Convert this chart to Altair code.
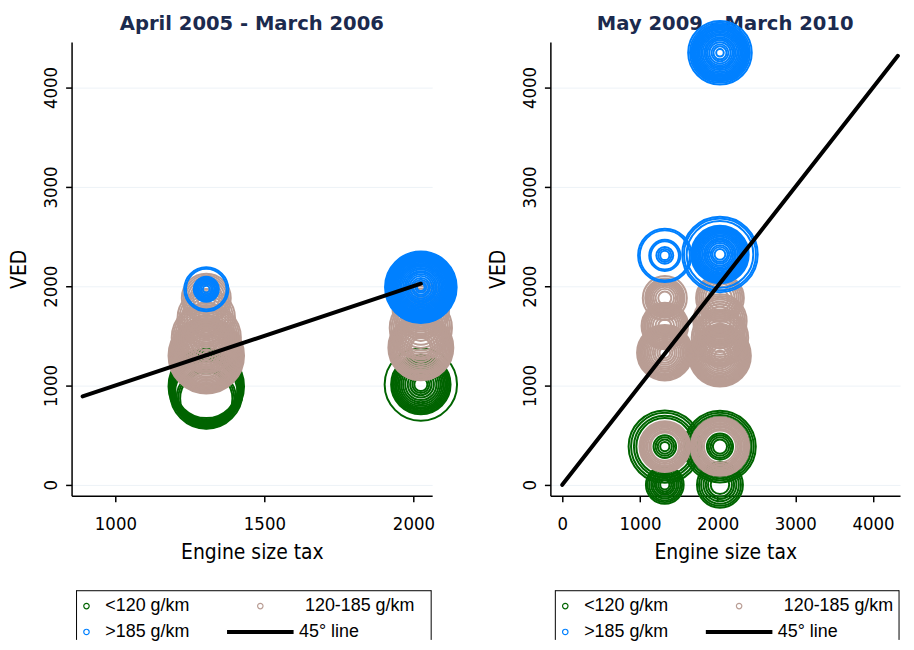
import altair as alt
import pandas as pd

CATS = ["<120 g/km", "120-185 g/km", ">185 g/km"]
LINE_LABEL = "45° line"
COLORS = ["#006400", "#b99d94", "#0080ff"]

TITLE_1 = "April 2005 - March 2006"
TITLE_2 = "May 2009 - March 2010"

# (engine size tax, VED, [weights of the observations at that point])
P1_LOW = [
    (1305, 990, [100, 94, 88, 82, 76, 70]),
    (1305, 930, [92, 84, 76, 68]),
    (1305, 870, [62, 55, 48]),
    (2025, 1010, [92, 62, 57, 52, 47, 42, 37, 32, 27, 22, 17, 12, 8, 5, 3]),
]
P1_MID = [
    (1305, 1300, [100, 95, 90, 85, 80, 75, 70, 65, 60, 55, 50, 45, 40, 35, 30, 25, 20, 16, 12, 9, 6, 3, 1]),
    (1305, 1480, [84, 76, 68, 60, 52, 44, 36, 28, 20, 12]),
    (1305, 1680, [58, 50, 42, 34, 26, 18, 10]),
    (1305, 1880, [42, 36, 30, 24, 18, 12, 6]),
    (2025, 1380, [74, 69, 64, 59, 54, 49, 44, 39, 34, 29, 24, 19, 14, 10, 7]),
    (2025, 1580, [68, 60, 52, 44, 36, 28, 20, 12]),
    (2025, 1760, [56, 48, 40, 32, 24, 16]),
]
P1_HIGH = [
    (1305, 1970, [34, 29, 11, 9, 7.5, 6, 4.5, 3, 1.8, 0.8]),
    (2025, 1990, [90, 86, 82, 78, 74, 70, 66, 62, 58, 54, 50, 46, 42, 38, 34, 30, 26, 22, 18, 15, 12, 9, 6, 4, 2, 1]),
]
P1_LINE = [890, 2025]

P2_LOW = [
    (1320, 385, [92, 80, 67, 57, 9, 6, 3.5, 1.5]),
    (1320, 0, [25, 21, 17, 13, 10, 7, 5, 3, 1.5]),
    (2030, 385, [90, 80, 70, 62, 12, 9, 6, 3.5]),
    (2030, 0, [37, 31, 25, 19, 14, 10, 6]),
]
P2_MID = [
    (1320, 385, [45, 41, 37, 33, 29, 25, 21, 17, 14]),
    (2030, 385, [60, 56, 52, 48, 44, 39, 34, 30, 26, 22, 18]),
    (1320, 1330, [54, 50, 46, 42, 38, 34, 30, 26, 22, 18, 14, 10, 7, 4, 2]),
    (1320, 1600, [38, 34, 30, 26, 22, 18, 14, 10, 6, 3]),
    (1320, 1880, [34, 27, 24, 21, 18, 15, 12, 9, 6, 3]),
    (2030, 1300, [67, 63, 59, 55, 51, 47, 43, 39, 35, 31, 27, 23, 19, 15, 11, 8, 5, 2]),
    (2030, 1480, [56, 50, 44, 38, 32, 26, 20, 14, 8]),
    (2030, 1650, [50, 44, 38, 32, 26, 20, 14, 8]),
    (2030, 1880, [40, 35, 30, 25, 20, 15, 10, 5]),
]
P2_HIGH = [
    (1320, 2310, [50, 44, 17, 14, 5, 3, 1.5]),
    (2030, 2320, [100, 91, 78, 58, 54, 50, 46, 42, 38, 34, 30, 26, 22, 18, 15, 12, 9, 6, 4, 2]),
    (2030, 4350, [71, 63, 57, 53, 49, 45, 41, 37, 33, 29, 25, 21, 17, 14, 11, 8, 5, 3, 1]),
]
P2_LINE = [0, 4320]

Y_TICKS = [0, 1000, 2000, 3000, 4000]
P1_XTICKS = [1000, 1500, 2000]
P2_XTICKS = [0, 1000, 2000, 3000, 4000]

NARROW = "Liberation Sans Narrow, DejaVu Sans Condensed, sans-serif"
REGULAR = "Liberation Sans, Arial, sans-serif"
TITLE_FONT = "DejaVu Sans, sans-serif"

Y_DOMAIN = [-111, 4460]
PLOT_H = 457
LEG_TOP = 95   # gap between plot bottom and legend box
LEG_H = 145


def build_points(low, mid, high):
    rows = []
    for cat, clusters in zip(CATS, [low, mid, high]):
        for x, y, ws in clusters:
            for w in ws:
                rows.append({"cat": cat, "x": x, "y": y, "w": w, "o": len(rows)})
    return pd.DataFrame(rows)


def panel(low, mid, high, line, xdom, xticks, width):
    pts = build_points(low, mid, high)
    xscale = alt.Scale(domain=xdom, nice=False, zero=False)
    yscale = alt.Scale(domain=Y_DOMAIN, nice=False, zero=False)
    xaxis = alt.Axis(values=xticks, format="d", grid=False, title="Engine size tax",
                     tickSize=6, tickWidth=1.5, tickColor="#000",
                     domainColor="#000", domainWidth=1.5,
                     labelFont=NARROW, labelFontSize=18.5, labelColor="#000",
                     labelPadding=13, labelFlush=False, labelOverlap=False,
                     titleFont=NARROW, titleFontSize=21, titleFontWeight="normal",
                     titleColor="#000", titlePadding=9)
    yaxis = alt.Axis(values=Y_TICKS, format="d", grid=True, gridColor="#edf2f7",
                     gridWidth=1, title="VED",
                     tickSize=6, tickWidth=1.5, tickColor="#000",
                     domainColor="#000", domainWidth=1.5,
                     labelFont=NARROW, labelFontSize=18.5, labelColor="#000",
                     labelAngle=270, labelAlign="center", labelBaseline="bottom",
                     labelPadding=5, labelFlush=False, labelOverlap=False,
                     titleFont=NARROW, titleFontSize=21, titleFontWeight="normal",
                     titleColor="#000", titlePadding=12)
    points = alt.Chart(pts).mark_point(
        shape="circle", filled=False, strokeWidth=2.0, opacity=1, clip=False
    ).encode(
        x=alt.X("x:Q", scale=xscale, axis=xaxis),
        y=alt.Y("y:Q", scale=yscale, axis=yaxis),
        size=alt.Size("w:Q", scale=alt.Scale(domain=[0, 100], range=[0, 5776]), legend=None),
        color=alt.Color("cat:N", scale=alt.Scale(domain=CATS, range=COLORS), legend=None),
        order=alt.Order("o:Q"),
    )
    ldf = pd.DataFrame({"x": line, "y": line})
    ln = alt.Chart(ldf).mark_line(color="black", strokeWidth=4, strokeCap="round").encode(
        x=alt.X("x:Q", scale=xscale, axis=xaxis),
        y=alt.Y("y:Q", scale=yscale, axis=yaxis),
    )
    return alt.layer(points, ln).properties(width=width, height=PLOT_H)


def title_block(text, width):
    return alt.Chart(alt.Data(values=[{"t": text}])).mark_text(
        font=TITLE_FONT, fontSize=19.7, fontWeight="bold", color="#1b2a4e",
        align="center", baseline="top"
    ).encode(text="t:N", x=alt.value(width / 2), y=alt.value(4)).properties(
        width=width, height=32)


def legend(width):
    labels = CATS + [LINE_LABEL]
    ldf = pd.DataFrame({"label": labels, "col": [0, 1, 0, 1], "row": [0, 0, 1, 1],
                        "kind": ["marker", "marker", "marker", "line"]})
    xs = alt.Scale(domain=[0, 1], range=[15, 190])
    ys = alt.Scale(domain=[0, 1], range=[LEG_TOP + 16, LEG_TOP + 42])
    color = alt.Color("label:N", scale=alt.Scale(domain=labels, range=COLORS + ["black"]),
                      legend=None)
    base = alt.Chart(ldf)
    enc = dict(x=alt.X("col:Q", scale=xs, axis=None), y=alt.Y("row:Q", scale=ys, axis=None))
    marks = base.transform_filter(alt.datum.kind == "marker").mark_point(
        shape="circle", filled=False, size=30, strokeWidth=1.2, opacity=1
    ).encode(color=color, **enc)
    keyline = base.transform_filter(alt.datum.kind == "line").mark_tick(
        orient="horizontal", size=67, thickness=4, color="black", opacity=1
    ).encode(**enc)
    txt_kw = dict(align="left", baseline="middle", font=REGULAR, fontSize=18, color="#000")
    t0 = base.transform_filter(alt.datum.col == 0).mark_text(dx=19, **txt_kw).encode(
        text="label:N", **enc)
    t1 = base.transform_filter((alt.datum.col == 1) & (alt.datum.row == 0)).mark_text(
        dx=45, **txt_kw).encode(text="label:N", **enc)
    t2 = base.transform_filter((alt.datum.col == 1) & (alt.datum.row == 1)).mark_text(
        dx=39, **txt_kw).encode(text="label:N", **enc)
    frame = alt.Data(values=[{"a": 1}])
    top = alt.Chart(frame).mark_rule(color="black", strokeWidth=1).encode(
        x=alt.value(5), x2=alt.value(width - 1), y=alt.value(LEG_TOP + 0.5))
    left = alt.Chart(frame).mark_rule(color="black", strokeWidth=1).encode(
        x=alt.value(5), y=alt.value(LEG_TOP), y2=alt.value(LEG_H))
    right = alt.Chart(frame).mark_rule(color="black", strokeWidth=1).encode(
        x=alt.value(width - 1), y=alt.value(LEG_TOP), y2=alt.value(LEG_H))
    return alt.layer(top, left, right, marks, keyline, t0, t1, t2).properties(
        width=width, height=LEG_H)


W1 = 363
W2 = 352
p1 = panel(P1_LOW, P1_MID, P1_HIGH, P1_LINE, [853, 2063], P1_XTICKS, W1)
p2 = panel(P2_LOW, P2_MID, P2_HIGH, P2_LINE, [-153, 4348], P2_XTICKS, W2)

col1 = alt.vconcat(title_block(TITLE_1, W1), p1, legend(W1), spacing=0, bounds="flush")
col2 = alt.vconcat(title_block(TITLE_2, W2), p2, legend(W2), spacing=0, bounds="flush")

chart = alt.hconcat(col1, col2, spacing=25).properties(
    padding={"left": 0, "top": 0, "right": 0, "bottom": -2},
    background="white",
).configure_view(stroke=None)

chart.save("out.html", embed_options={"renderer": "svg", "actions": False})
